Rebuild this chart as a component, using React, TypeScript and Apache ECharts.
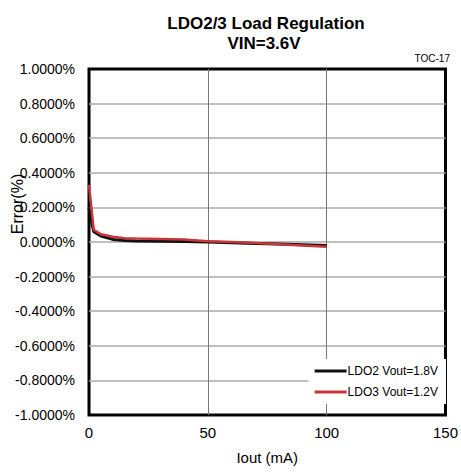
import React, { useEffect, useRef } from "react";
import * as echarts from "echarts";

const ldo2Data: [number, number][] = [
  [0, 0.2], [1, 0.12], [2, 0.06], [5, 0.035], [10, 0.015], [15, 0.008], [20, 0.006],
  [30, 0.004], [40, 0.003], [50, 0], [60, -0.004], [70, -0.008], [80, -0.012], [90, -0.016], [100, -0.02],
];
const ldo3Data: [number, number][] = [
  [0, 0.33], [1, 0.2], [2, 0.07], [5, 0.045], [10, 0.03], [15, 0.022], [20, 0.02],
  [30, 0.018], [40, 0.015], [50, 0.005], [60, 0], [70, -0.006], [80, -0.013], [90, -0.02], [100, -0.028],
];
const seriesNames = ["LDO2 Vout=1.8V", "LDO3 Vout=1.2V"];
const FONT = "'Liberation Sans Narrow', 'Liberation Sans', Arial, sans-serif";

export default function App() {
  const ref = useRef<HTMLDivElement>(null);
  useEffect(() => {
    if (!ref.current) return;
    const chart = echarts.init(ref.current, undefined, { renderer: "svg" });
    chart.setOption({
      animation: false,
      backgroundColor: "#fff",
      graphic: [
        { type: "text", x: 266, y: 23, style: { text: "LDO2/3 Load Regulation", fontSize: 17, fontWeight: "bold", fontFamily: FONT, fill: "#000", textAlign: "center", textVerticalAlign: "middle" } },
        { type: "text", x: 264, y: 43, style: { text: "VIN=3.6V", fontSize: 17, fontWeight: "bold", fontFamily: FONT, fill: "#000", textAlign: "center", textVerticalAlign: "middle" } },
        { type: "text", x: 450, y: 63, style: { text: "TOC-17", fontSize: 10, fontFamily: FONT, fill: "#000", textAlign: "right", textVerticalAlign: "bottom" } },
        { type: "text", x: 17, y: 204, rotation: Math.PI / 2, style: { text: "Error(%)", fontSize: 16, fontFamily: FONT, fill: "#000", textAlign: "center", textVerticalAlign: "middle" } },
      ],
      legend: {
        data: seriesNames,
        orient: "vertical",
        right: 15,
        top: 359,
        backgroundColor: "#fff",
        padding: [6, 8, 6, 6],
        itemGap: 9,
        itemWidth: 32,
        itemHeight: 3,
        icon: "rect",
        textStyle: { fontFamily: FONT, fontSize: 12, color: "#000", padding: [0, 0, 0, -4] },
      },
      grid: { left: 89, right: 12, top: 69, bottom: 58, show: true, borderColor: "#000", borderWidth: 3, backgroundColor: "transparent" },
      xAxis: {
        type: "value",
        min: 0,
        max: 150,
        interval: 50,
        name: "Iout (mA)",
        nameLocation: "middle",
        nameGap: 35,
        nameTextStyle: { fontFamily: FONT, fontSize: 15, color: "#000" },
        axisLine: { show: false },
        axisTick: { show: false },
        axisLabel: { fontFamily: FONT, fontSize: 15, color: "#000", margin: 10 },
        splitLine: { show: true, showMinLine: false, showMaxLine: false, lineStyle: { color: "#777", width: 1 } },
      },
      yAxis: {
        type: "value",
        min: -1,
        max: 1,
        interval: 0.2,
        axisLine: { show: false },
        axisTick: { show: false },
        axisLabel: {
          fontFamily: FONT, fontSize: 14, color: "#000", margin: 14,
          formatter: (v: number) => (Math.abs(v) < 1e-9 ? 0 : v).toFixed(4) + "%",
        },
        splitLine: { show: true, showMinLine: false, showMaxLine: false, lineStyle: { color: "#aaa", width: 1.5 } },
      },
      series: [
        { name: seriesNames[0], type: "line", data: ldo2Data, symbol: "none", lineStyle: { color: "#111", width: 3 }, itemStyle: { color: "#111" }, z: 3 },
        { name: seriesNames[1], type: "line", data: ldo3Data, symbol: "none", lineStyle: { color: "#c8353a", width: 2.5 }, itemStyle: { color: "#c8353a" }, z: 4 },
      ],
    });
    return () => chart.dispose();
  }, []);
  return <div ref={ref} style={{ position: "absolute", left: 0, top: 0, width: 461, height: 473 }} />;
}
